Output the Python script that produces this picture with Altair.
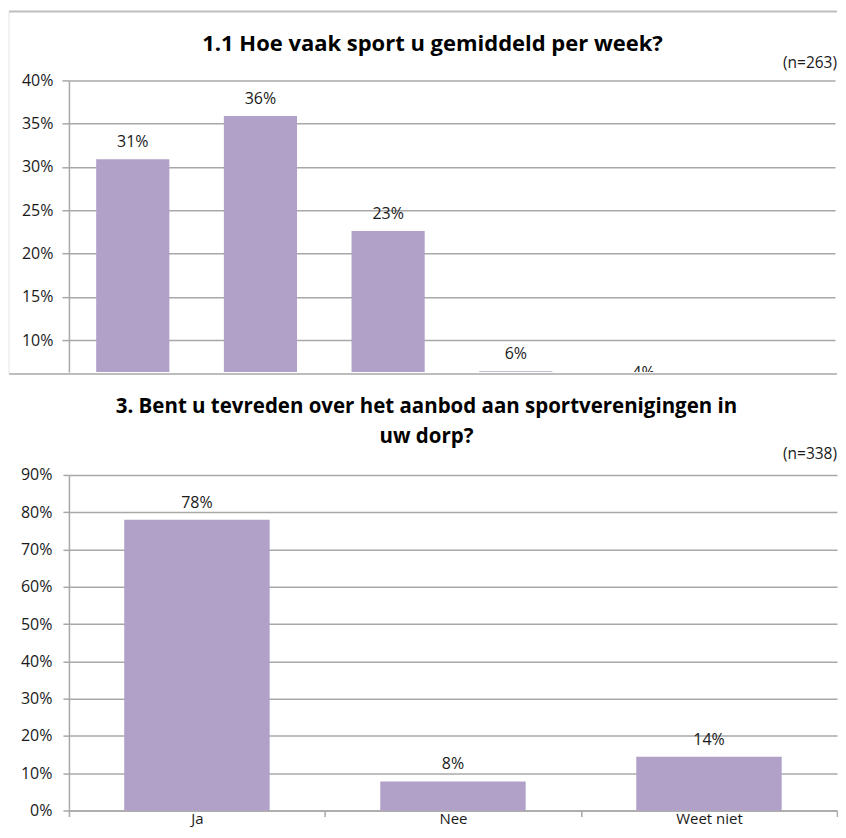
import altair as alt
import pandas as pd

# ---------------- data ----------------
top_title = "1.1 Hoe vaak sport u gemiddeld per week?"
top_n = "(n=263)"
top_categories = ["1 keer", "2 keer", "3 keer", "4 keer", "5 keer", "Vaker"]
top_values = [30.9, 35.9, 22.6, 6.4, 4.2, 0]
top_labels = ["31%", "36%", "23%", "6%", "4%", "0%"]
top_ticks = [10, 15, 20, 25, 30, 35, 40]

bottom_title = "3. Bent u tevreden over het aanbod aan sportverenigingen in\nuw dorp?"
bottom_n = "(n=338)"
bottom_categories = ["Ja", "Nee", "Weet niet"]
bottom_values = [78.0, 7.8, 14.4]
bottom_labels = ["78%", "8%", "14%"]
bottom_ticks = [0, 10, 20, 30, 40, 50, 60, 70, 80, 90]

BAR = "#b1a0c7"
GRID = "#a8a8a8"
FRAME = "#bdbdbd"
FONT = "Open Sans"

top_df = pd.DataFrame({"cat": top_categories, "value": top_values, "label": top_labels})
bot_df = pd.DataFrame({"cat": bottom_categories, "value": bottom_values, "label": bottom_labels})

TW, TH = 767, 292
BW, BH = 769, 336

# ---------------- top chart ----------------
tx = alt.X("cat:N", sort=top_categories, axis=None,
           scale=alt.Scale(paddingInner=0, paddingOuter=0))
ty = alt.Y("value:Q",
           scale=alt.Scale(domain=[6.3, 40], nice=False, zero=False),
           axis=alt.Axis(values=top_ticks, labelExpr="datum.value + '%'", title=None,
                         grid=True, tickSize=7, labelPadding=9, domain=True))

top_bars = alt.Chart(top_df).mark_bar(color=BAR, clip=True,
                                      width=alt.RelativeBandSize(0.573)).encode(x=tx, y=ty)
top_text = alt.Chart(top_df).mark_text(clip=True, dy=-17, fontSize=16, font=FONT,
                                       color="#1a1a1a").encode(x=tx, y=ty, text="label:N")

top_title_mark = alt.Chart(pd.DataFrame({"t": [top_title]})).mark_text(
    font=FONT, fontSize=22, fontWeight="bold", color="#000000", align="center",
    baseline="middle").encode(x=alt.value(364), y=alt.value(-36), text="t:N")
top_n_mark = alt.Chart(pd.DataFrame({"t": [top_n]})).mark_text(
    font=FONT, fontSize=15.5, color="#1a1a1a", align="right",
    baseline="middle").encode(x=alt.value(769), y=alt.value(-17), text="t:N")

frame_top = alt.Chart(pd.DataFrame({"s": ["top"]})).mark_rule(color=FRAME, strokeWidth=2).encode(
    x=alt.value(-60), x2=alt.value(769), y=alt.value(-69))
frame_bottom = alt.Chart(pd.DataFrame({"s": ["bottom"]})).mark_rule(color=FRAME, strokeWidth=2).encode(
    x=alt.value(-60), x2=alt.value(769), y=alt.value(294))
frame_left = alt.Chart(pd.DataFrame({"s": ["left"]})).mark_rule(color="#e4e4e4", strokeWidth=1).encode(
    x=alt.value(-60), y=alt.value(-69), y2=alt.value(294))

top = alt.layer(frame_top, frame_bottom, frame_left, top_bars, top_text,
                top_title_mark, top_n_mark).properties(width=TW, height=TH)

# ---------------- bottom chart ----------------
bx = alt.X("cat:N", sort=bottom_categories, title=None,
           scale=alt.Scale(paddingInner=0, paddingOuter=0),
           axis=alt.Axis(labelAngle=0, tickBand="extent", tickSize=6, labelPadding=-5,
                         domain=True, grid=False, labelBaseline="top", labelFontSize=15))
by = alt.Y("value:Q", scale=alt.Scale(domain=[0, 90], nice=False),
           axis=alt.Axis(values=bottom_ticks, labelExpr="datum.value + '%'", title=None,
                         grid=True, tickSize=6, labelPadding=11, domain=True))

bot_bars = alt.Chart(bot_df).mark_bar(color=BAR,
                                      width=alt.RelativeBandSize(0.568)).encode(x=bx, y=by)
bot_text = alt.Chart(bot_df).mark_text(dy=-17, fontSize=16, font=FONT,
                                       color="#1a1a1a").encode(x=bx, y=by, text="label:N")
bot_title_mark = alt.Chart(pd.DataFrame({"t": [bottom_title]})).mark_text(
    font=FONT, fontSize=20.5, fontWeight="bold", color="#000000", align="center",
    baseline="middle", lineBreak="\n", lineHeight=30).encode(
    x=alt.value(358), y=alt.value(-68), text="t:N")
bot_n_mark = alt.Chart(pd.DataFrame({"t": [bottom_n]})).mark_text(
    font=FONT, fontSize=15.5, color="#1a1a1a", align="right",
    baseline="middle").encode(x=alt.value(769), y=alt.value(-21), text="t:N")

bottom = alt.layer(bot_bars, bot_text, bot_title_mark, bot_n_mark).properties(width=BW, height=BH)

chart = alt.vconcat(top, bottom, spacing=22).properties(
    padding={"left": 0, "top": 2, "right": 0, "bottom": 0}
).configure_view(stroke=None).configure_axis(
    gridColor=GRID, domainColor=GRID, tickColor=GRID, gridWidth=1.5, domainWidth=1.5,
    tickWidth=1.5, labelFont=FONT, labelFontSize=16, labelColor="#1a1a1a"
)

chart.save("out.html", embed_options={"renderer": "svg", "actions": False})
